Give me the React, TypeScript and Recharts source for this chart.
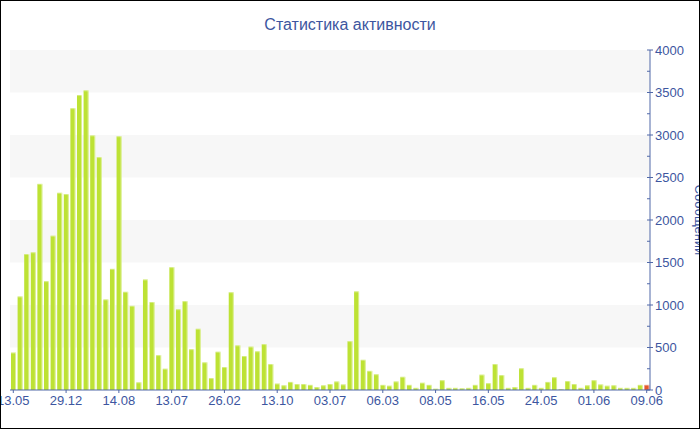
import React from 'react';
import { BarChart, Bar, XAxis, YAxis, ReferenceArea } from 'recharts';

const values: number[] = [
  440, 1100, 1600, 1620, 2425, 1280, 1815, 2320, 2305, 3315,
  3470, 3525, 2995, 2740, 1065, 1425, 2985, 1155, 990, 90,
  1300, 1035, 410, 250, 1445, 950, 1045, 480, 720, 325,
  140, 450, 270, 1150, 525, 400, 510, 455, 540, 305,
  75, 55, 95, 70, 70, 60, 35, 55, 70, 100,
  65, 575, 1160, 355, 225, 185, 60, 50, 100, 155,
  60, 25, 85, 60, 15, 115, 25, 25, 20, 25,
  60, 180, 80, 305, 175, 25, 35, 255, 25, 60,
  25, 95, 150, 12, 105, 70, 25, 55, 115, 65,
  50, 55, 25, 25, 25, 60, 60,
];

const tickLabels: string[] = [
  '13.05', '29.12', '14.08', '13.07', '26.02', '13.10', '03.07',
  '06.03', '08.05', '16.05', '24.05', '01.06', '09.06',
];
const tickStep = 8;

const yTicks: number[] = [0, 250, 500, 750, 1000, 1250, 1500, 1750, 2000, 2250, 2500, 2750, 3000, 3250, 3500, 3750, 4000];
const bandRanges: [number, number][] = [[500, 1000], [1500, 2000], [2500, 3000], [3500, 4000]];

const title = 'Статистика активности';
const yTitle = 'Сообщений';

const BLUE = '#3d56a0';
const AXIS = '#5068a8';
const GREEN = '#bde234';
const RED = '#e4582c';
const FONT = '"Liberation Sans", Arial, sans-serif';

const data = values.map((v, i) => ({ i, v }));
const xTicks = tickLabels.map((_, k) => k * tickStep);

const YTick = (props: any) => {
  const { x, y, payload } = props;
  const v = payload.value as number;
  const major = v % 500 === 0;
  return (
    <g>
      <line x1={x - 3} x2={major ? x + 3 : x} y1={y} y2={y} stroke={AXIS} strokeWidth={1} />
      {major && (
        <text x={x + 5} y={y} dy="0.36em" fill={BLUE} fontSize={13} fontFamily={FONT} textAnchor="start">
          {v}
        </text>
      )}
    </g>
  );
};

const BarShape = (props: any) => {
  const { x, y, width, height, index } = props;
  if (!height || height <= 0) return null;
  const fill = index === values.length - 1 ? RED : GREEN;
  return (
    <g>
      <rect x={x} y={y} width={width} height={height} fill={fill} />
      <rect x={x + width - 1} y={y} width={1} height={height} fill="#ffffff" fillOpacity={0.45} />
      <rect x={x} y={y} width={width} height={1} fill="#ffffff" fillOpacity={0.35} />
    </g>
  );
};

export default function App() {
  return (
    <div style={{ position: 'absolute', left: 0, top: 0, width: 700, height: 430, background: '#fff' }}>
      <div
        style={{
          position: 'absolute', left: 0, top: 17, width: 700, textAlign: 'center',
          fontFamily: FONT, fontSize: 16, lineHeight: '16px', color: BLUE,
        }}
      >
        {title}
      </div>
      <BarChart
        width={700}
        height={430}
        data={data}
        margin={{ top: 50, right: 0, bottom: 0, left: 10 }}
        barCategoryGap={0}
        style={{ position: 'absolute', left: 0, top: 0 }}
      >
        {bandRanges.map(([a, b]) => (
          <ReferenceArea key={a} y1={a} y2={b} yAxisId="r" fill="#f7f7f7" fillOpacity={1} stroke="none" ifOverflow="hidden" />
        ))}
        <XAxis
          dataKey="i"
          type="category"
          ticks={xTicks}
          interval={0}
          tickFormatter={(i: number) => tickLabels[i / tickStep]}
          height={40}
          tickSize={3}
          tickMargin={3}
          axisLine={{ stroke: AXIS }}
          tickLine={{ stroke: AXIS }}
          tick={{ fill: BLUE, fontSize: 13, fontFamily: FONT }}
        />
        <YAxis
          yAxisId="r"
          orientation="right"
          domain={[0, 4000]}
          ticks={yTicks}
          interval={0}
          width={50}
          tickSize={0}
          tickMargin={0}
          axisLine={{ stroke: AXIS }}
          tickLine={false}
          tick={YTick}
          label={{
            content: (p: any) => {
              const vb = p.viewBox || { x: 650, y: 50, width: 50, height: 340 };
              const cx = vb.x + 45;
              const cy = vb.y + vb.height / 2;
              return (
                <text
                  x={cx}
                  y={cy}
                  transform={`rotate(90, ${cx}, ${cy})`}
                  textAnchor="middle"
                  fill={BLUE}
                  fontSize={13}
                  fontFamily={FONT}
                >
                  {yTitle}
                </text>
              );
            },
          }}
        />
        <Bar dataKey="v" yAxisId="r" barSize={5} isAnimationActive={false} shape={BarShape} />
      </BarChart>
      <div
        style={{
          position: 'absolute', left: 0, top: 0, width: 700, height: 429,
          border: '1px solid #000', boxSizing: 'border-box', pointerEvents: 'none',
        }}
      />
    </div>
  );
}
